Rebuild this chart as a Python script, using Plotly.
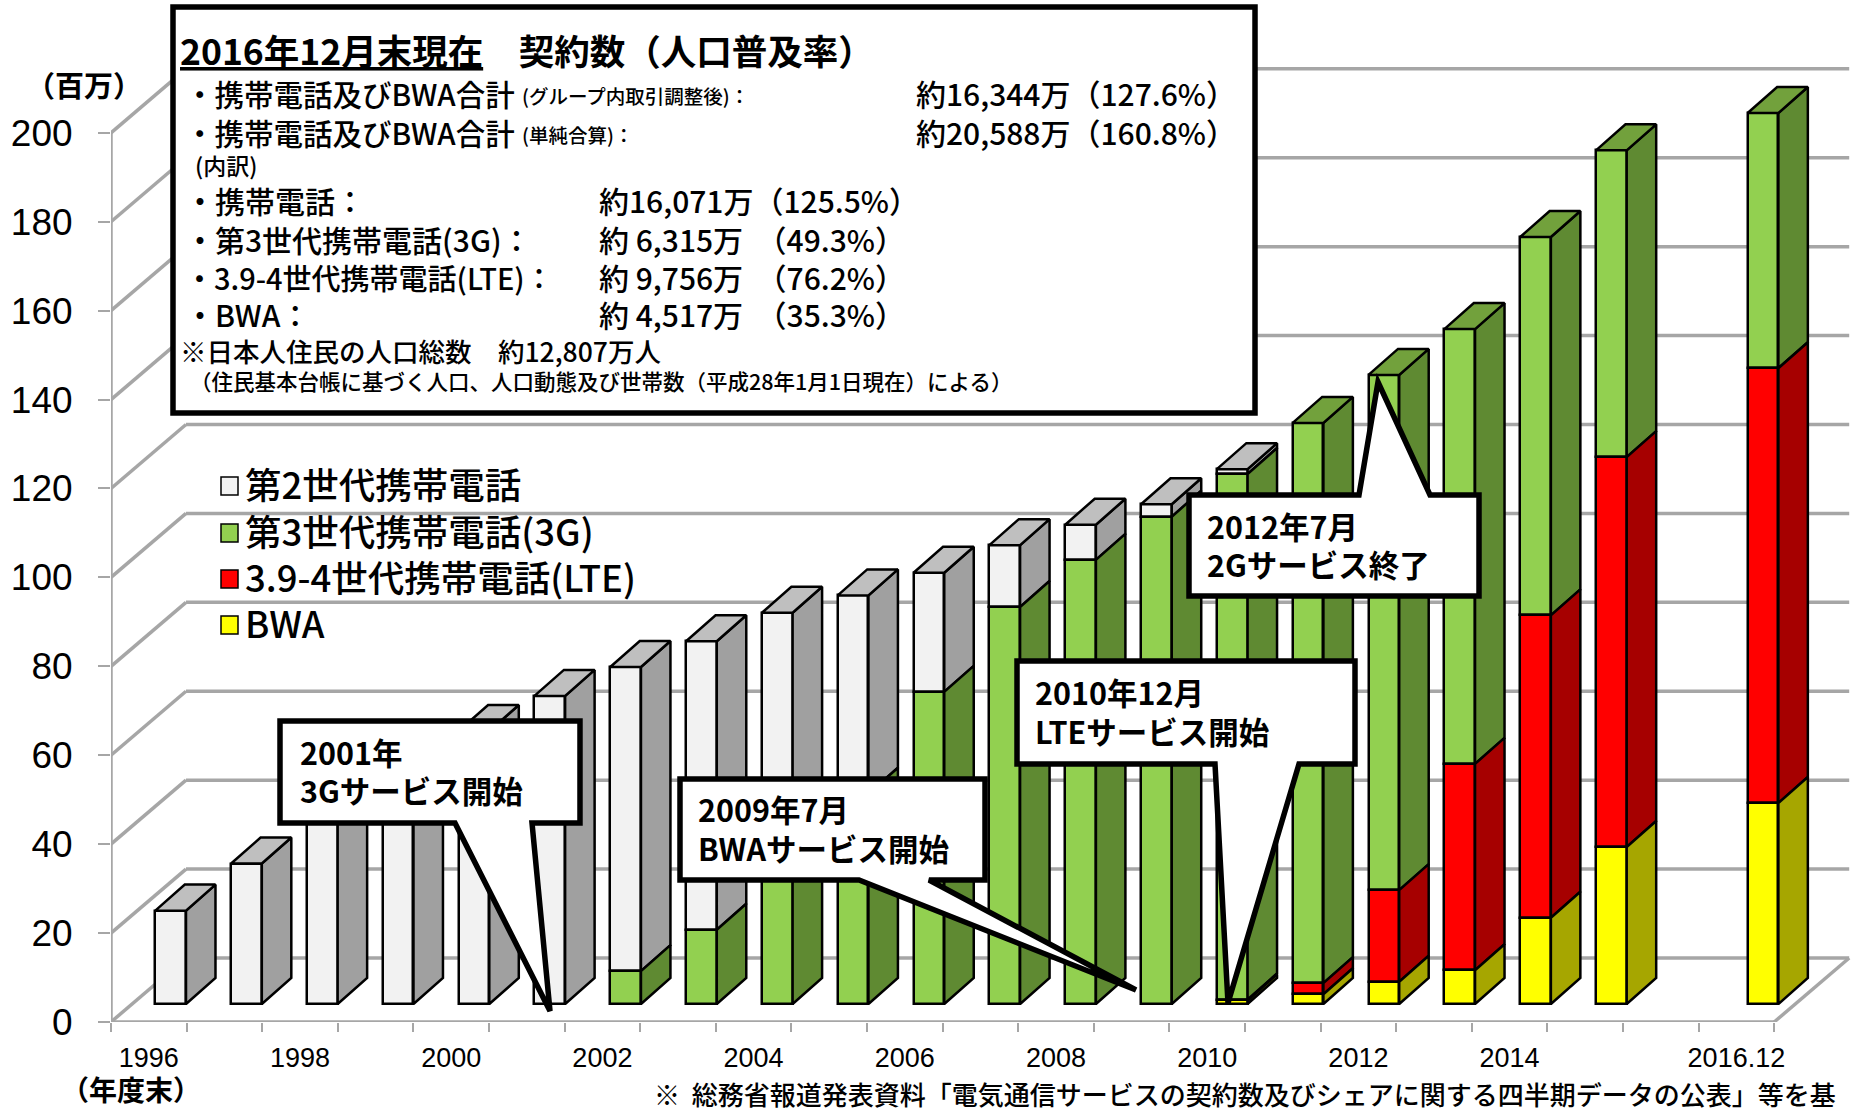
import plotly.graph_objects as go

# ---------- data (millions of contracts, end of fiscal year) ----------
categories = ["1996","1997","1998","1999","2000","2001","2002","2003","2004","2005","2006",
              "2007","2008","2009","2010","2011","2012","2013","2014","2015","","2016.12"]
tick_labels = ["1996","1998","2000","2002","2004","2006","2008","2010","2012","2014","2016.12"]
tick_index  = [0,2,4,6,8,10,12,14,16,18,21]
y_ticks = [0,20,40,60,80,100,120,140,160,180,200]

bwa = [0,0,0,0,0,0,0,0,0,0,0,0,0,0,0.8,2.2,5.0,7.6,19.4,35.3,0,45.2]
lte = [0,0,0,0,0,0,0,0,0,0,0,0,0,0,0.2,2.5,20.6,46.4,68.0,87.7,0,97.8]
g3  = [0,0,0,0,0,0,7.4,16.7,32.0,47.3,70.2,89.3,99.9,109.6,118.2,126.0,115.9,97.8,85.1,69.0,0,57.4]
g2  = [21.0,31.6,41.5,51.1,61.4,69.3,68.4,64.9,56.0,44.6,26.8,13.9,7.9,2.8,1.1,0,0,0,0,0,0,0]

series = [
    ("第2世代携帯電話", g2, "#f2f2f2", "#a0a0a0", "#bfbfbf"),
    ("第3世代携帯電話(3G)", g3, "#92d050", "#5f8a32", "#72a13c"),
    ("3.9-4世代携帯電話(LTE)", lte, "#ff0000", "#a60000", "#c00000"),
    ("BWA", bwa, "#ffff00", "#a6a600", "#c8c800"),
]
stack_order = [3, 2, 1, 0]   # bottom to top

# ---------- geometry of the oblique drawing ----------
W, H = 1852, 1110
X0, Y0 = 111, 1022           # pixel of the axis origin
CAT_PX, UNIT_PX = 75.6, 4.446
FLOOR_DX, FLOOR_DY = 75 / CAT_PX, 64 / UNIT_PX   # depth of walls
BAR_X0, BAR_W, BAR_PITCH = 0.586, 0.406, 1.003
DEPTH_X, DEPTH_Y = 0.39, 5.85
BASE_Y = 4.05
GRID = "#a6a6a6"
FONT = "Noto Sans CJK JP"
TEXT_DY = -3

def px(x): return x / W
def py(y): return 1 - y / H

n = len(categories)
bases = {}
acc = [BASE_Y] * n
for s in stack_order:
    bases[s] = list(acc)
    acc = [a + v for a, v in zip(acc, series[s][1])]
tops = acc
xleft = [BAR_X0 + i * BAR_PITCH for i in range(n)]
xcen = [x + BAR_W / 2 for x in xleft]

fig = go.Figure()

# front faces
for s, (name, vals, front, side, top) in enumerate(series):
    idx = [i for i in range(n) if vals[i] > 0]
    fig.add_trace(go.Bar(
        name=name, x=[xcen[i] for i in idx], y=[vals[i] for i in idx],
        base=[bases[s][i] for i in idx], width=BAR_W,
        marker=dict(color=front, line=dict(color="black", width=2.5)),
        hoverinfo="skip", showlegend=False,
    ))

# side faces
for s, (name, vals, front, side, top) in enumerate(series):
    xs, ys = [], []
    for i in range(n):
        if vals[i] <= 0:
            continue
        r = xleft[i] + BAR_W
        b = bases[s][i]
        t = b + vals[i]
        xs += [r, r + DEPTH_X, r + DEPTH_X, r, r, None]
        ys += [b, b + DEPTH_Y, t + DEPTH_Y, t, b, None]
    fig.add_trace(go.Scatter(x=xs, y=ys, mode="lines", fill="toself", fillcolor=side,
                             line=dict(color="black", width=2.5), showlegend=False, hoverinfo="skip"))

# top faces (coloured after the uppermost series of each bar)
for s, (name, vals, front, side, top) in enumerate(series):
    xs, ys = [], []
    for i in range(n):
        if vals[i] <= 0 or abs(bases[s][i] + vals[i] - tops[i]) > 1e-6:
            continue
        l = xleft[i]
        t = tops[i]
        xs += [l, l + BAR_W, l + BAR_W + DEPTH_X, l + DEPTH_X, l, None]
        ys += [t, t, t + DEPTH_Y, t + DEPTH_Y, t, None]
    if xs:
        fig.add_trace(go.Scatter(x=xs, y=ys, mode="lines", fill="toself", fillcolor=top,
                                 line=dict(color="black", width=2.5), showlegend=False, hoverinfo="skip"))

# ---------- walls and floor ----------
shapes = []
line = dict(color=GRID, width=3.5)
XMAX_F = n
for v in y_ticks:
    shapes.append(dict(type="line", xref="x", yref="y", layer="below", x0=0, y0=v,
                       x1=FLOOR_DX, y1=v + FLOOR_DY, line=line))
    shapes.append(dict(type="line", xref="x", yref="y", layer="below", x0=FLOOR_DX, y0=v + FLOOR_DY,
                       x1=XMAX_F + FLOOR_DX, y1=v + FLOOR_DY, line=line))
shapes.append(dict(type="line", xref="x", yref="y", layer="below", x0=0, y0=0, x1=0, y1=200, line=line))
shapes.append(dict(type="line", xref="x", yref="y", layer="below", x0=0, y0=0, x1=XMAX_F, y1=0, line=line))
shapes.append(dict(type="line", xref="x", yref="y", layer="below", x0=XMAX_F, y0=0,
                   x1=XMAX_F + FLOOR_DX, y1=FLOOR_DY, line=line))

# ---------- info box and callouts (pixel-placed decoration) ----------
def poly(points):
    return "M" + " L".join(f"{px(a):.5f},{py(b):.5f}" for a, b in points) + " Z"

def deco(points):
    shapes.append(dict(type="path", xref="paper", yref="paper", layer="above", path=poly(points),
                       fillcolor="white", line=dict(color="black", width=5.5)))

deco([(173, 7), (1255, 7), (1255, 413), (173, 413)])
deco([(280, 721), (580, 721), (580, 823), (532, 823), (550, 1011), (455, 823), (280, 823)])
deco([(680, 779), (985, 779), (985, 880), (929, 880), (1136, 990), (859, 880), (680, 880)])
deco([(1017, 661), (1355, 661), (1355, 764), (1299, 764), (1228, 1003), (1215, 764), (1017, 764)])
deco([(1189, 495), (1359, 495), (1378, 382), (1430, 495), (1479, 495), (1479, 596), (1189, 596)])

# ---------- texts ----------
annotations = []
def text(x, y, s, size, bold=False, anchor="left", color="black"):
    annotations.append(dict(xref="paper", yref="paper", x=px(x), y=py(y + TEXT_DY), text=s, showarrow=False,
                            xanchor=anchor, yanchor="middle", align="left",
                            font=dict(family=FONT, size=size, color=color,
                                      weight=700 if bold else 500)))

# legend (hand-placed to keep the reference's swatches and line pitch)
legend_y = [486, 533, 579, 625]
for (name, vals, front, side, top), ly in zip(series, legend_y):
    shapes.append(dict(type="rect", xref="paper", yref="paper", layer="above",
                       x0=px(221), x1=px(238), y0=py(ly + 9), y1=py(ly - 9),
                       fillcolor=front, line=dict(color="black", width=1.5)))
    text(243, ly, name, 36.5)

text(178, 53, "<u>2016年12月末現在</u>　契約数（人口普及率）", 35.5, bold=True)
text(183, 96, "・携帯電話及びBWA合計", 29.5)
text(520, 98, "(グループ内取引調整後)：", 19.5)
text(914, 96, "約16,344万（127.6%）", 30)
text(183, 135, "・携帯電話及びBWA合計", 29.5)
text(520, 137, "(単純合算)：", 19.5)
text(914, 135, "約20,588万（160.8%）", 30)
text(193, 168, "(内訳)", 23)
text(183, 203, "・携帯電話：", 30)
text(597, 203, "約16,071万（125.5%）", 30)
text(183, 242, "・第3世代携帯電話(3G)：", 30)
text(597, 242, "約 6,315万  （49.3%）", 30)
text(183, 280, "・3.9-4世代携帯電話(LTE)：", 29)
text(597, 280, "約 9,756万  （76.2%）", 30)
text(183, 317, "・BWA：", 30)
text(597, 317, "約 4,517万  （35.3%）", 30)
text(178, 353, "※日本人住民の人口総数　約12,807万人", 26.5)
text(188, 383, "（住民基本台帳に基づく人口、人口動態及び世帯数（平成28年1月1日現在）による）", 21.5)

text(298, 755, "2001年", 30.5, bold=True)
text(298, 793, "3Gサービス開始", 30.5, bold=True)
text(696, 812, "2009年7月", 30.5, bold=True)
text(696, 851, "BWAサービス開始", 30.5, bold=True)
text(1033, 695, "2010年12月", 30.5, bold=True)
text(1033, 734, "LTEサービス開始", 30.5, bold=True)
text(1205, 529, "2012年7月", 30.5, bold=True)
text(1205, 567, "2Gサービス終了", 30.5, bold=True)

text(84, 87, "（百万）", 29, bold=True, anchor="center")
text(131, 1092, "（年度末）", 28, bold=True, anchor="center")
text(652, 1096, "※  総務省報道発表資料「電気通信サービスの契約数及びシェアに関する四半期データの公表」等を基", 26)

# ---------- layout ----------
fig.update_layout(
    width=W, height=H, autosize=False,
    margin=dict(l=0, r=0, t=0, b=0, pad=0),
    paper_bgcolor="white", plot_bgcolor="white",
    barmode="overlay", bargap=0, showlegend=False,
    shapes=shapes, annotations=annotations,
    xaxis=dict(domain=[px(X0), 1], range=[0, (W - X0) / CAT_PX], automargin=False, showgrid=False, zeroline=False,
               showline=False, tickmode="array", tickvals=[i + 0.5 for i in tick_index], ticktext=tick_labels,
               ticks="outside", ticklen=12, tickcolor="rgba(0,0,0,0)",
               tickfont=dict(family="Liberation Sans", size=27, color="black"),
               minor=dict(tickmode="array", tickvals=list(range(n + 1)), ticks="outside", ticklen=9,
                          tickwidth=2, tickcolor=GRID, showgrid=False)),
    yaxis=dict(domain=[(H - Y0) / H, 1], range=[0, Y0 / UNIT_PX], automargin=False, showgrid=False, zeroline=False,
               showline=False, tickmode="array", tickvals=y_ticks, ticks="outside", ticklen=12,
               tickwidth=2, tickcolor=GRID, ticklabelstandoff=18,
               tickfont=dict(family="Liberation Sans", size=37, color="black")),
)

fig.write_html("out.html", config=dict(displayModeBar=False),
               post_script="document.body.style.margin='0';document.documentElement.style.overflow='hidden';")
